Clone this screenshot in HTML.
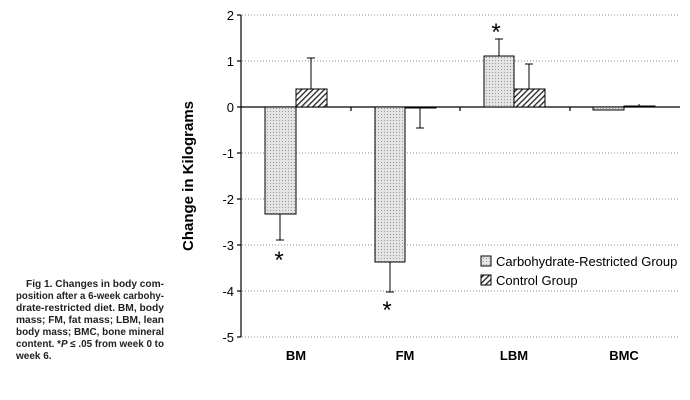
<!DOCTYPE html><html><head><style>body{margin:0;background:#fff}svg{display:block}</style></head><body>
<svg width="690" height="400" xmlns="http://www.w3.org/2000/svg" font-family="Liberation Sans, sans-serif">
<defs>
<pattern id="dots" width="3" height="3" patternUnits="userSpaceOnUse"><rect width="3" height="3" fill="#e4e4e4"/><rect width="1" height="1" fill="#999"/></pattern>
<pattern id="hatch" width="4" height="4" patternUnits="userSpaceOnUse" patternTransform="rotate(45)"><rect width="4" height="4" fill="#fff"/><rect width="1.3" height="4" fill="#222"/></pattern>
</defs>
<g stroke="#888" stroke-dasharray="1,2" stroke-width="1">
<line x1="242" y1="15" x2="680" y2="15"/><line x1="242" y1="61" x2="680" y2="61"/>
<line x1="242" y1="153" x2="680" y2="153"/><line x1="242" y1="199" x2="680" y2="199"/><line x1="242" y1="245" x2="680" y2="245"/><line x1="242" y1="291" x2="680" y2="291"/><line x1="242" y1="337" x2="680" y2="337"/>
</g>
<g stroke="#000" stroke-width="1.2">
<line x1="241" y1="15" x2="241" y2="337"/>
<line x1="241" y1="107" x2="680" y2="107"/>
<line x1="237" y1="15" x2="241" y2="15"/><line x1="237" y1="61" x2="241" y2="61"/><line x1="237" y1="107" x2="241" y2="107"/><line x1="237" y1="153" x2="241" y2="153"/><line x1="237" y1="199" x2="241" y2="199"/><line x1="237" y1="245" x2="241" y2="245"/><line x1="237" y1="291" x2="241" y2="291"/><line x1="237" y1="337" x2="241" y2="337"/>
<line x1="351" y1="107" x2="351" y2="111"/><line x1="460" y1="107" x2="460" y2="111"/><line x1="570" y1="107" x2="570" y2="111"/>
</g>
<g font-size="13" text-anchor="end" fill="#000">
<text x="234" y="20">2</text><text x="234" y="66">1</text><text x="234" y="112">0</text><text x="234" y="158">-1</text><text x="234" y="204">-2</text><text x="234" y="250">-3</text><text x="234" y="296">-4</text><text x="234" y="342">-5</text>
</g>
<g stroke="#000" stroke-width="1">
<line x1="280" y1="214" x2="280" y2="240"/><line x1="276" y1="240" x2="284" y2="240"/>
<line x1="311" y1="89" x2="311" y2="58"/><line x1="307" y1="58" x2="315" y2="58"/>
<line x1="390" y1="262" x2="390" y2="292"/><line x1="386" y1="292" x2="394" y2="292"/>
<line x1="420" y1="108" x2="420" y2="128"/><line x1="416" y1="128" x2="424" y2="128"/>
<line x1="499" y1="56" x2="499" y2="39"/><line x1="495" y1="39" x2="503" y2="39"/>
<line x1="529" y1="89" x2="529" y2="64"/><line x1="525" y1="64" x2="533" y2="64"/>
<line x1="639" y1="106" x2="639" y2="104"/>
<rect x="265" y="107" width="31" height="107" fill="url(#dots)"/>
<rect x="296" y="89" width="31" height="18" fill="url(#hatch)"/>
<rect x="375" y="107" width="30" height="155" fill="url(#dots)"/>
<rect x="405" y="107" width="31" height="1" fill="#000"/>
<rect x="484" y="56" width="30" height="51" fill="url(#dots)"/>
<rect x="514" y="89" width="31" height="18" fill="url(#hatch)"/>
<rect x="593" y="107" width="31" height="3" fill="url(#dots)"/>
<rect x="624" y="106" width="31" height="1" fill="url(#hatch)"/>
</g>
<g font-size="24" text-anchor="middle"><text x="279" y="268">*</text><text x="387" y="318">*</text><text x="496" y="40">*</text></g>
<g font-size="13" font-weight="bold" text-anchor="middle"><text x="296" y="360">BM</text><text x="405" y="360">FM</text><text x="514" y="360">LBM</text><text x="624" y="360">BMC</text></g>
<text transform="translate(193,176) rotate(-90)" font-size="15" font-weight="bold" text-anchor="middle">Change in Kilograms</text>
<rect x="481" y="256" width="10" height="10" fill="url(#dots)" stroke="#000"/>
<rect x="481" y="275" width="10" height="10" fill="url(#hatch)" stroke="#000"/>
<g font-size="13"><text x="496" y="266">Carbohydrate-Restricted Group</text><text x="496" y="285">Control Group</text></g>
<g font-size="10" font-weight="bold" fill="#222">
<text x="26" y="287" textLength="138" lengthAdjust="spacingAndGlyphs">Fig 1.   Changes in body com-</text>
<text x="16" y="299" textLength="148" lengthAdjust="spacingAndGlyphs">position after a 6-week carbohy-</text>
<text x="16" y="311" textLength="148" lengthAdjust="spacingAndGlyphs">drate-restricted  diet.  BM,  body</text>
<text x="16" y="323" textLength="148" lengthAdjust="spacingAndGlyphs">mass; FM, fat mass; LBM, lean</text>
<text x="16" y="335" textLength="148" lengthAdjust="spacingAndGlyphs">body mass; BMC, bone mineral</text>
<text x="16" y="347" textLength="148" lengthAdjust="spacingAndGlyphs">content. *<tspan font-style="italic">P</tspan> ≤ .05 from week 0 to</text>
<text x="16" y="359">week 6.</text>
</g>
</svg></body></html>
